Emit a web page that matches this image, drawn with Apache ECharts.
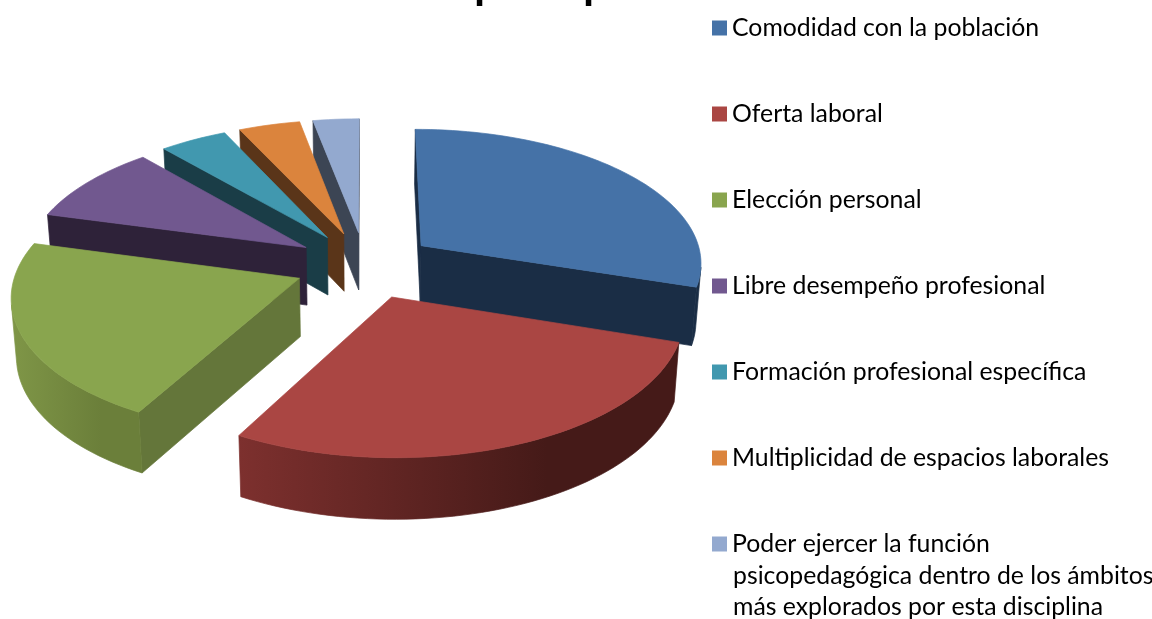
<!DOCTYPE html>
<html>
<head>
<meta charset="utf-8">
<style>
  html, body { margin: 0; padding: 0; background: #fff; }
  #chart { width: 1152px; height: 619px; }
</style>
<script src="https://cdn.jsdelivr.net/npm/echarts@6/dist/echarts.min.js"></script>
</head>
<body>
<div id="chart"></div>
<script>
const categories = [
  'Comodidad con la población',
  'Oferta laboral',
  'Elección personal',
  'Libre desempeño profesional',
  'Formación profesional específica',
  'Multiplicidad de espacios laborales',
  'Poder ejercer la función',
]
const lastLabelLines = ['psicopedagógica dentro de los ámbitos', 'más explorados por esta disciplina']
const values = [30, 28, 21.2, 9.4, 4.4, 4, 3]
const topColors = ['#4572a7', '#aa4643', '#89a54e', '#71588f', '#4198af', '#db843d', '#93a9cf']
const sideColors = ['#1a2d45', '#451a18', '#64763a', '#2e2239', '#1a3d47', '#5a3519', '#3c4554']
const rimLeftColors = ['#1a2d45', '#7d302e', '#7f9647', '#2e2239', '#1a3d47', '#5a3519', '#3c4554']
const rimRightColors = ['#1a2d45', '#451a18', '#6b7f3a', '#2e2239', '#1a3d47', '#5a3519', '#3c4554']
// back to front
const drawOrder = [6, 5, 4, 3, 0, 2, 1]

const total = values.reduce((a, b) => a + b, 0)
const view = { cx: 365, cy: 265, rx: 282, ry: 134, k: 0.116, explode: 0.25, depth: 58 }
const legendFont = { fontFamily: 'Lato', fontSize: 24.8, color: '#000' }

function project(u, v, low) {
  const s = 1 / (1 - view.k * v)
  return [
    view.cx + view.rx * u * s * (low ? 0.985 : 1),
    view.cy + view.ry * v * s + (low ? view.depth * (1 + 0.05 * v) : 0),
  ]
}

function area(pts) {
  let a = 0
  pts.forEach((p, i) => {
    const q = pts[(i + 1) % pts.length]
    a += p[0] * q[1] - q[0] * p[1]
  })
  return a / 2
}

function poly(points, color) {
  return {
    type: 'polygon',
    shape: { points },
    style: { fill: color, stroke: color, lineWidth: 0.7 },
    silent: true,
  }
}

function renderSlice(params) {
  const i = params.seriesIndex
  const before = values.slice(0, i).reduce((a, b) => a + b, 0)
  const a0 = (before / total) * Math.PI * 2
  const a1 = ((before + values[i]) / total) * Math.PI * 2
  const mid = (a0 + a1) / 2
  const ox = view.explode * Math.sin(mid)
  const oy = -view.explode * Math.cos(mid)
  const at = (r, a, low) => project(ox + r * Math.sin(a), oy - r * Math.cos(a), low)

  const steps = Math.max(4, Math.round((a1 - a0) / 0.03))
  const angles = []
  for (let n = 0; n <= steps; n++) angles.push(a0 + ((a1 - a0) * n) / steps)

  const children = []
  // radial walls
  const startWall = [at(0, a0), at(1, a0), at(1, a0, true), at(0, a0, true)]
  const endWall = [at(1, a1), at(0, a1), at(0, a1, true), at(1, a1, true)]
  ;[startWall, endWall].forEach((w) => {
    if (area(w) < 0) children.push(poly(w, sideColors[i]))
  })
  // outer rim, only the part facing the viewer, shaded left to right
  const seen = angles.filter((a, n) => {
    const b = angles[n + 1] === undefined ? a : angles[n + 1]
    const c = angles[n - 1] === undefined ? a : angles[n - 1]
    const front = (p, q) => area([at(1, q), at(1, p), at(1, p, true), at(1, q, true)]) > 0
    return front(a, b) || front(c, a)
  })
  if (seen.length > 1) {
    const upper = seen.map((a) => at(1, a))
    const lower = seen.map((a) => at(1, a, true)).reverse()
    const xs = upper.map((p) => p[0])
    const fill = new echarts.graphic.LinearGradient(Math.min(...xs), 0, Math.max(...xs), 0, [
      { offset: 0, color: rimLeftColors[i] },
      { offset: 0.7, color: rimRightColors[i] },
      { offset: 1, color: rimRightColors[i] },
    ], true)
    children.push(poly(upper.concat(lower), fill))
  }
  // top face
  children.push(poly([at(0, a0)].concat(angles.map((a) => at(1, a))), topColors[i]))
  return { type: 'group', children }
}

const chart = echarts.init(document.getElementById('chart'), null, { renderer: 'canvas' })
chart.setOption({
  animation: false,
  backgroundColor: '#fff',
  title: {
    text: 'principal',
    left: 474,
    top: -33,
    padding: 0,
    textStyle: { fontFamily: 'Liberation Sans', fontWeight: 'bold', fontSize: 40, color: '#000' },
  },
  legend: {
    orient: 'vertical',
    left: 712,
    top: 12,
    padding: 0,
    itemWidth: 15,
    itemHeight: 15,
    itemGap: 54,
    icon: 'rect',
    selectedMode: false,
    textStyle: { ...legendFont, lineHeight: 32 },
    data: categories,
  },
  graphic: lastLabelLines.map((text, i) => ({
    type: 'text',
    left: 733,
    top: 564 + i * 31,
    silent: true,
    style: { text, font: legendFont.fontSize + 'px ' + legendFont.fontFamily, fill: legendFont.color },
  })),
  series: categories.map((name, i) => ({
    name,
    type: 'custom',
    coordinateSystem: 'none',
    z: 2 + drawOrder.indexOf(i),
    color: topColors[i],
    data: [values[i]],
    renderItem: renderSlice,
  })),
})
</script>
</body>
</html>
